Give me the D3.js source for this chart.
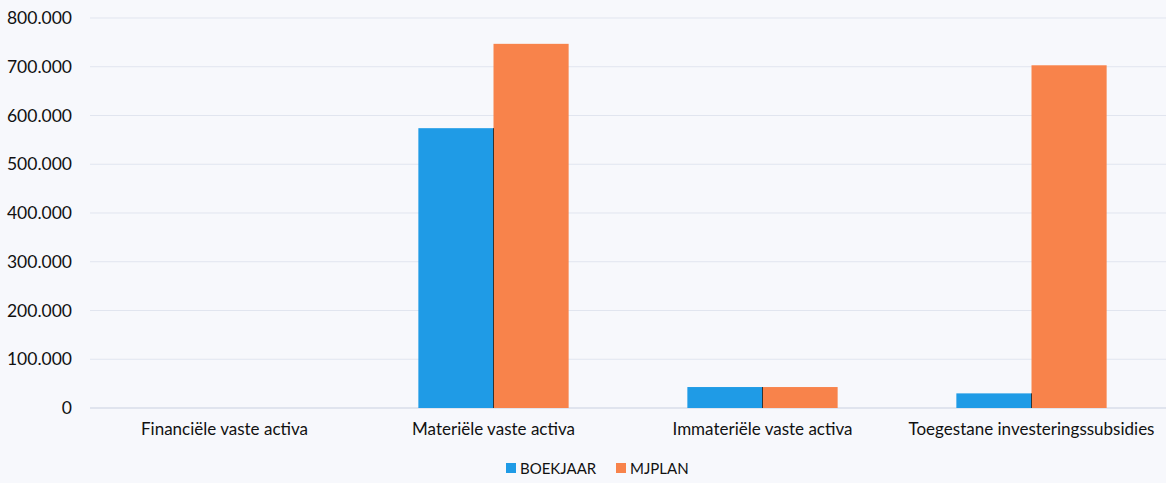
<!DOCTYPE html>
<html><head><meta charset="utf-8">
<script src="https://cdn.jsdelivr.net/npm/d3@7"></script>
<style>
body{margin:0;background:#f7f8fc;}
svg{display:block;font-family:Lato, "Open Sans", sans-serif;}
</style></head>
<body><svg id="c" width="1166" height="483"></svg>
<script>
const categories = ["Financiële vaste activa","Materiële vaste activa","Immateriële vaste activa","Toegestane investeringssubsidies"];
const seriesNames = ["BOEKJAAR","MJPLAN"];
const boekjaar = [0, 574000, 43000, 30000];
const mjplan = [0, 747000, 43000, 703000];
const yTicks = [0,100000,200000,300000,400000,500000,600000,700000,800000];
const colors = ["#1f9be6","#f8834b"];

const svg = d3.select("#c");
const W=1166,H=483;
svg.append("rect").attr("width",W).attr("height",H).attr("fill","#f7f8fc");
const x = d3.scaleBand().domain(categories).range([90,1166]).paddingInner(0).paddingOuter(0);
const y = d3.scaleLinear().domain([0,800000]).range([408,18]);
const x1 = d3.scaleBand().domain(seriesNames).range([0,x.bandwidth()]).paddingInner(0).paddingOuter(0.79);

// gridlines
svg.append("g").selectAll("line").data(yTicks).join("line")
  .attr("x1",90).attr("x2",1166).attr("y1",d=>y(d)).attr("y2",d=>y(d))
  .attr("stroke",d=>d===0?"#c9d0e0":"#e1e5ef").attr("stroke-width",1);

const fmt = d=> d===0?"0":d3.format(",")(d).replace(/,/g,".");
const yAxis = d3.axisLeft(y).tickValues(yTicks).tickFormat(fmt).tickSize(0).tickPadding(0);
const ga = svg.append("g").attr("transform","translate(72,0)").call(yAxis);
ga.select(".domain").remove();
ga.selectAll("text").attr("font-size",17.5).attr("fill","#111").attr("font-family","Lato, sans-serif");

const data = categories.map((c,i)=>({c, vals:[boekjaar[i],mjplan[i]]}));
const g = svg.append("g");
data.forEach(d=>{
  d.vals.forEach((v,j)=>{
    g.append("rect")
      .attr("x", x(d.c)+x1(seriesNames[j]))
      .attr("y", y(v))
      .attr("width", x1.bandwidth())
      .attr("height", y(0)-y(v))
      .attr("fill", colors[j]);
  });
  if(d.vals[1]>0){
    g.append("line").attr("x1",x(d.c)+x1(seriesNames[1])).attr("x2",x(d.c)+x1(seriesNames[1]))
      .attr("y1",y(Math.min(d.vals[0],d.vals[1]))).attr("y2",y(0)).attr("stroke","#333").attr("stroke-width",1);
  }
});

const xAxis = d3.axisBottom(x).tickSize(0).tickPadding(0);
const gx = svg.append("g").attr("transform","translate(0,423)").call(xAxis);
gx.select(".domain").remove();
gx.selectAll("text").attr("font-size",17).attr("fill","#111").attr("font-family","Lato, sans-serif");

const leg = svg.append("g").attr("transform","translate(506,469)");
const items = [{n:seriesNames[0],x:0},{n:seriesNames[1],x:110}];
items.forEach((it,j)=>{
  leg.append("rect").attr("x",it.x).attr("y",-6).attr("width",10).attr("height",10).attr("fill",colors[j]);
  leg.append("text").attr("x",it.x+14).attr("y",0).attr("dy","0.35em").attr("font-size",15).attr("fill","#111").text(it.n);
});
</script></body></html>
